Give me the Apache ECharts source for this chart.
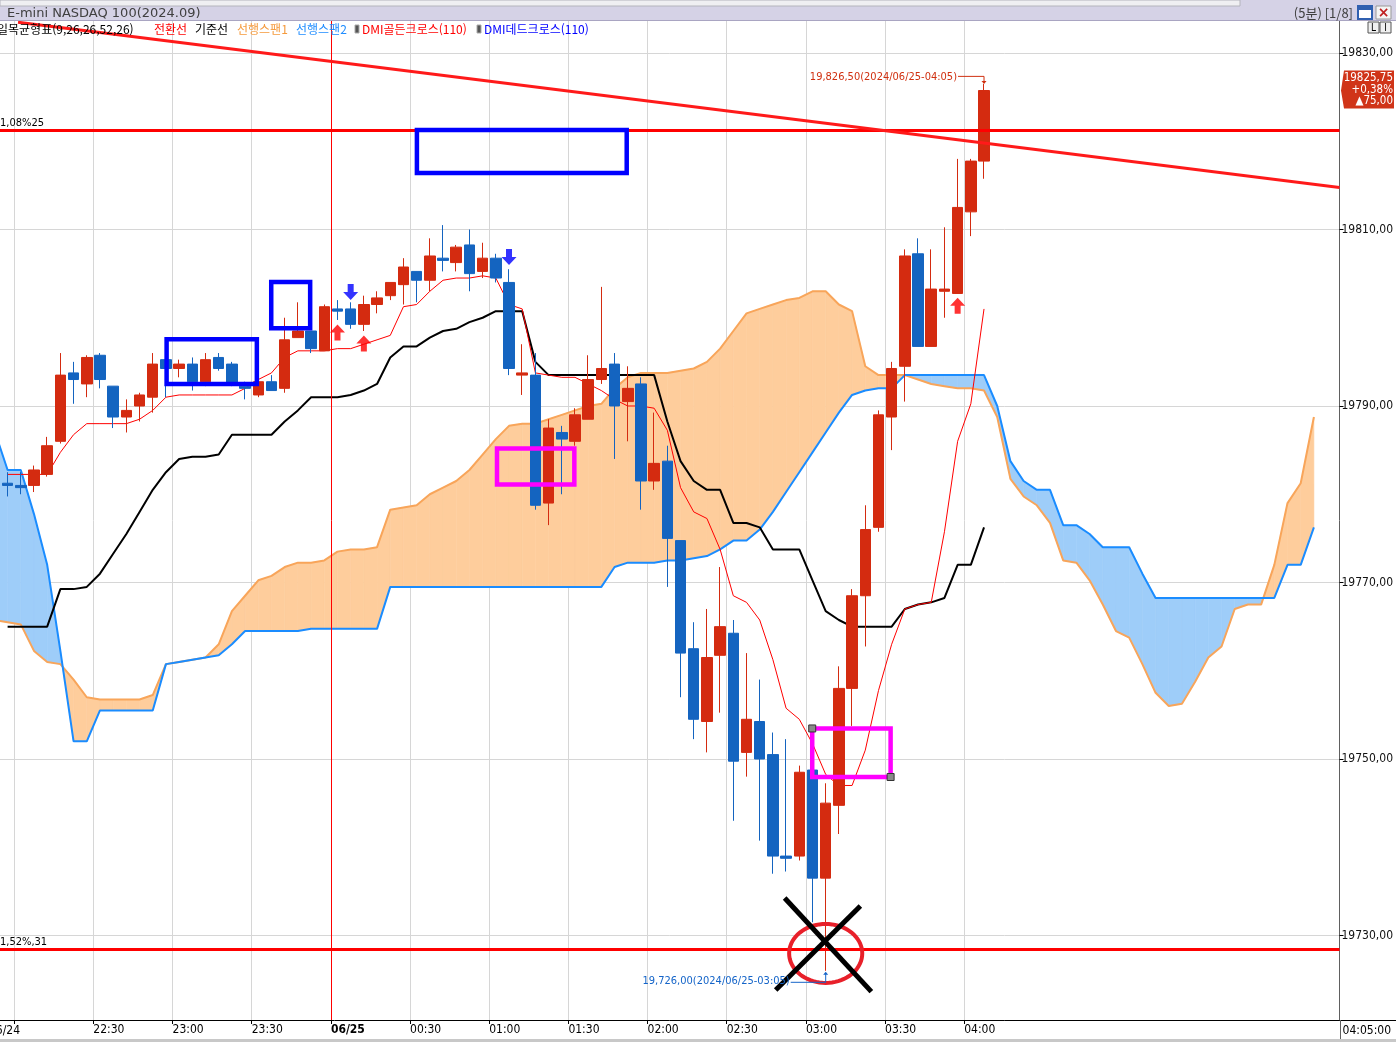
<!DOCTYPE html>
<html lang="ko">
<head>
<meta charset="UTF-8">
<title>E-mini NASDAQ 100(2024.09)</title>
<style>
html,body{margin:0;padding:0;background:#fff;}
#main{width:1396px;height:1042px;}
</style>
</head>
<body>
<div id="main"></div>
<script src="https://cdn.jsdelivr.net/npm/echarts@6/dist/echarts.min.js"></script>
<script>
// 5분봉, 06/24 21:55 ~ 06/25 04:05 (봉 번호 0..74)
var opens = [19781.25,19781.0,19781.0,19782.25,19786.0,19793.75,19792.5,19795.75,19792.25,19788.75,
19790.0,19791.0,19795.25,19794.25,19794.75,19792.75,19795.5,19794.75,19792.25,19791.25,
19792.75,19792.0,19797.75,19798.5,19796.25,19801.0,19801.0,19799.25,19801.5,19802.5,
19803.75,19805.25,19804.25,19806.75,19806.25,19808.25,19805.25,19806.75,19804.0,19793.5,
19793.5,19779.0,19787.0,19786.0,19788.5,19793.0,19794.75,19790.5,19792.5,19781.5,
19783.75,19774.75,19762.5,19754.25,19761.75,19764.25,19750.75,19754.25,19750.5,19739.0,
19739.0,19748.75,19736.5,19744.75,19758.0,19768.5,19776.25,19788.75,19794.5,19807.25,
19796.75,19803.0,19802.75,19812.0,19817.75];
var closes = [19781.0,19780.75,19782.75,19785.5,19793.5,19793.0,19795.5,19793.0,19788.75,19789.5,
19791.25,19794.75,19794.25,19794.75,19792.75,19795.25,19794.25,19792.5,19792.0,19792.75,
19791.75,19797.5,19798.5,19796.5,19801.25,19800.75,19799.25,19801.5,19802.25,19804.0,
19805.75,19804.25,19807.0,19806.5,19808.0,19805.0,19806.75,19804.5,19794.25,19793.75,
19778.75,19787.5,19786.25,19789.0,19793.0,19794.25,19790.0,19792.0,19781.5,19783.5,
19775.0,19762.0,19754.5,19761.5,19765.0,19749.75,19754.5,19750.0,19739.0,19738.75,
19748.5,19736.5,19745.0,19758.0,19768.5,19776.0,19789.0,19794.25,19807.0,19796.75,
19803.25,19803.25,19812.5,19817.75,19825.75];
var lows = [19779.75,19780.0,19780.25,19782.0,19785.75,19790.25,19791.0,19792.0,19787.5,19787.0,
19788.25,19789.25,19791.0,19793.25,19791.75,19792.25,19794.0,19792.25,19790.75,19791.0,
19791.75,19791.5,19797.75,19796.0,19796.25,19799.75,19798.75,19798.5,19800.5,19802.0,
19801.5,19801.75,19803.0,19805.25,19805.25,19803.0,19804.5,19804.0,19793.5,19791.25,
19778.25,19776.5,19780.0,19785.5,19788.5,19792.5,19784.0,19786.0,19778.25,19780.5,
19769.5,19757.0,19752.25,19750.75,19755.25,19743.0,19748.0,19740.75,19737.0,19737.25,
19738.5,19731.5,19726.0,19741.5,19753.75,19762.75,19775.75,19785.0,19790.5,19796.75,
19796.75,19800.0,19802.75,19809.25,19815.75];
var highs = [19782.5,19782.5,19783.25,19786.5,19796.0,19795.0,19795.75,19796.0,19792.25,19790.75,
19791.5,19796.0,19795.75,19795.25,19795.5,19796.0,19796.0,19795.0,19792.75,19793.0,
19793.5,19800.0,19801.75,19798.5,19801.5,19802.0,19801.75,19802.5,19803.0,19804.0,
19806.75,19805.25,19809.0,19810.5,19808.25,19810.0,19808.5,19807.25,19805.5,19797.0,
19796.0,19788.5,19787.75,19789.75,19795.75,19803.5,19796.0,19794.5,19793.25,19789.25,
19785.5,19774.75,19765.5,19767.0,19771.75,19765.75,19762.0,19759.0,19753.0,19752.25,
19749.25,19748.75,19747.25,19760.5,19769.25,19778.75,19789.5,19795.0,19807.75,19809.0,
19807.75,19810.25,19818.0,19818.0,19826.5];

// 전환선 / 기준선 (봉 0..74)
var tenkan = [19782.25,19782.25,19782.25,19782.25,19784.75,19786.75,19788.0,19788.0,19788.0,19788.0,
19788.5,19789.5,19791.0,19791.25,19791.25,19791.25,19791.25,19791.25,19792.0,19793.0,
19793.75,19795.5,19796.25,19796.25,19796.25,19796.5,19796.5,19797.0,19797.5,19798.0,
19801.25,19801.5,19803.0,19804.25,19804.5,19804.5,19804.75,19804.5,19801.5,19801.0,
19793.75,19793.5,19793.25,19793.25,19792.5,19791.75,19790.75,19790.0,19790.0,19789.75,
19787.25,19780.75,19778.0,19777.25,19773.75,19768.5,19767.75,19765.75,19761.25,19755.75,
19754.5,19751.75,19748.25,19747.0,19747.0,19751.0,19757.75,19763.0,19767.0,19767.5,
19767.75,19775.75,19786.0,19790.25,19801.0];
var kijun = [19765.0,19765.0,19765.0,19765.0,19769.25,19769.25,19769.5,19771.0,19773.25,19775.5,
19778.0,19780.5,19782.5,19784.0,19784.25,19784.25,19784.5,19786.75,19786.75,19786.75,
19786.75,19788.25,19789.5,19791.0,19791.0,19791.0,19791.25,19791.75,19792.5,19795.5,
19796.75,19796.75,19797.75,19798.5,19798.75,19799.5,19800.0,19800.75,19800.75,19800.75,
19795.0,19793.5,19793.5,19793.5,19793.5,19793.5,19793.5,19793.5,19793.5,19793.5,
19788.25,19783.75,19781.5,19780.5,19780.5,19776.75,19776.75,19776.25,19773.75,19773.75,
19773.75,19770.25,19766.75,19765.75,19765.0,19765.0,19765.0,19765.0,19767.0,19767.5,
19767.75,19768.25,19772.0,19772.0,19776.25];

// 선행스팬1 / 선행스팬2 (봉 -1..99, 25봉 앞으로)
var spanStart = -1;
var span1 = [19765.75,
19765.5,19765.25,19762.25,19761.0,19760.75,19759.0,19757.0,19756.75,19756.75,19756.75,
19756.75,19757.25,19760.75,19761.0,19761.25,19761.5,19763.0,19766.75,19768.5,19770.25,
19770.75,19771.75,19772.25,19772.25,19772.5,19773.5,19773.75,19773.75,19774.0,19778.25,
19778.5,19778.75,19780.0,19780.75,19781.5,19782.75,19784.5,19786.25,19787.75,19788.0,
19788.0,19788.5,19789.0,19789.5,19790.0,19790.25,19792.0,19793.25,19793.75,19793.75,
19793.75,19794.0,19794.25,19795.0,19796.5,19798.5,19800.5,19801.0,19801.5,19802.0,
19802.25,19803.0,19803.0,19801.5,19800.75,19794.5,19793.5,19793.5,19793.5,19793.0,
19792.5,19792.25,19792.0,19792.0,19791.75,19788.75,19781.75,19779.75,19778.75,19776.75,
19772.5,19772.25,19770.25,19767.5,19764.5,19763.75,19760.75,19757.5,19756.0,19756.25,
19758.75,19761.5,19762.75,19767.0,19767.5,19767.5,19772.0,19779.0,19781.25,19788.75];
var span2 = [19787.25,
19782.75,19782.75,19777.75,19772.0,19762.25,19752.0,19752.0,19755.5,19755.5,19755.5,
19755.5,19755.5,19760.75,19761.0,19761.25,19761.5,19761.75,19763.0,19764.5,19764.5,
19764.5,19764.5,19764.5,19764.75,19764.75,19764.75,19764.75,19764.75,19764.75,19769.5,
19769.5,19769.5,19769.5,19769.5,19769.5,19769.5,19769.5,19769.5,19769.5,19769.5,
19769.5,19769.5,19769.5,19769.5,19769.5,19769.5,19771.75,19772.25,19772.25,19772.25,
19772.5,19772.5,19772.75,19773.0,19773.75,19774.75,19774.75,19776.0,19778.0,19780.25,
19782.5,19784.75,19787.0,19789.25,19791.25,19791.75,19792.0,19792.0,19793.5,19793.5,
19793.5,19793.5,19793.5,19793.5,19793.5,19790.0,19783.75,19781.5,19780.5,19780.5,
19776.5,19776.5,19775.5,19774.0,19774.0,19774.0,19771.0,19768.25,19768.25,19768.25,
19768.25,19768.25,19768.25,19768.25,19768.25,19768.25,19768.25,19772.0,19772.0,19776.25];

// DMI 신호
var goldenCross = [[25, 19798.33], [27, 19797.08], [72, 19801.37]];
var deadCross = [[26, 19802.92], [38, 19806.88]];

// 축 눈금
var xTickLabels = ['', '22:30', '23:00', '23:30', '06/25', '00:30', '01:00', '01:30', '02:00', '02:30', '03:00', '03:30', '04:00'];
var yTicks = [19730, 19750, 19770, 19790, 19810, 19830];

// 수평선 / 추세선
var hLines = [19821.2, 19728.42];
var hLineLabels = ['1,08%25', '1,52%,31'];
var trendLine = [[0.79, 19833.48], [100.94, 19814.76]];

// 그림 도구 (x: 봉 번호, y: 가격)  [x0, x1, 아래, 위]
var blueBoxes = [[31.02, 46.92, 19816.4, 19821.28], [12.05, 18.89, 19792.5, 19797.56], [19.98, 22.93, 19798.81, 19804.05]];
var pinkBoxes = [[37.09, 42.95, 19781.11, 19785.19], [60.98, 66.92, 19747.96, 19753.46]];
var ringCenter = [62.0, 19727.97];
var ringRadius = [2.77, 3.34];
var crossLines = [[[58.89, 19734.25], [65.46, 19723.64]], [[64.63, 19733.35], [58.21, 19723.83]]];
var hiMark = {bar: 74, value: 19826.5, text: '(2024/06/25-04:05)'};
var loMark = {bar: 62, value: 19726.0, text: '(2024/06/25-03:05)'};
var lastInfo = ['19825,75', '+0,38%', '\u25B275,00'];

var NARROW = '"Liberation Sans Narrow","DejaVu Sans Condensed","Arial Narrow",sans-serif';
var KFONT = '"Noto Sans CJK KR","Noto Sans",sans-serif';
var UP = '#d42b10', DOWN = '#1464c0';

function fmtK(v) {
	var p = v.toFixed(2).split('.');
	return p[0].replace(/\B(?=(\d{3})+(?!\d))/g, ',') + ',' + p[1];
}

var candleData = opens.map(function (o, i) { return [i, o, closes[i], lows[i], highs[i]]; });
function pts(arr, start) { return arr.map(function (v, i) { return [i + (start || 0), v]; }); }
var tickPos = xTickLabels.map(function (t, k) { return 0.5 + 6 * k; });

var cloudData = [];
for (var i = 0; i < span1.length - 1; i++) {
	cloudData.push([i + spanStart, span1[i], span2[i], span1[i + 1], span2[i + 1]]);
}

function renderCloud(params, api) {
	var x0 = api.value(0), x1 = x0 + 1;
	var a0 = api.value(1), b0 = api.value(2), a1 = api.value(3), b1 = api.value(4);
	var A0 = api.coord([x0, a0]), B0 = api.coord([x0, b0]);
	var A1 = api.coord([x1, a1]), B1 = api.coord([x1, b1]);
	var d0 = a0 - b0, d1 = a1 - b1;
	var OR = '#fecd9c', BL = '#9ecdf9';
	function poly(p, c) { return {type: 'polygon', shape: {points: p}, style: {fill: c, stroke: c, lineWidth: 0.6}}; }
	var kids = [];
	if (d0 * d1 >= 0) {
		kids.push(poly([A0, A1, B1, B0], (d0 + d1) >= 0 ? OR : BL));
	} else {
		var t = d0 / (d0 - d1);
		var X = [A0[0] + t * (A1[0] - A0[0]), A0[1] + t * (A1[1] - A0[1])];
		kids.push(poly([A0, X, B0], d0 > 0 ? OR : BL));
		kids.push(poly([X, A1, B1], d1 > 0 ? OR : BL));
	}
	return {type: 'group', children: kids};
}

function renderMarks(params, api) {
	var kids = [];
	function c(p) { return api.coord(p); }
	function box(b, color) {
		var p0 = c([b[0], b[3]]), p1 = c([b[1], b[2]]);
		kids.push({type: 'rect', shape: {x: p0[0], y: p0[1], width: p1[0] - p0[0], height: p1[1] - p0[1]},
			style: {fill: 'none', stroke: color, lineWidth: 4.5}});
	}
	blueBoxes.forEach(function (b) { box(b, '#0000ff'); });
	pinkBoxes.forEach(function (b) { box(b, '#ff00ff'); });
	var hb = pinkBoxes[1];
	[[hb[0], hb[3]], [hb[1], hb[2]]].forEach(function (p) {
		var q = c(p);
		kids.push({type: 'rect', shape: {x: q[0] - 3.5, y: q[1] - 3.5, width: 7, height: 7}, style: {fill: '#8a8a8a', stroke: '#333', lineWidth: 1}});
	});
	// 원
	var ec = c(ringCenter), ex = c([ringCenter[0] + ringRadius[0], ringCenter[1]]), ey = c([ringCenter[0], ringCenter[1] + ringRadius[1]]);
	var rx = ex[0] - ec[0], ry = ec[1] - ey[1], ring = [];
	for (var k = 0; k < 72; k++) {
		var a = k / 72 * Math.PI * 2;
		ring.push([ec[0] + rx * Math.cos(a), ec[1] + ry * Math.sin(a)]);
	}
	kids.push({type: 'polygon', shape: {points: ring}, style: {fill: 'none', stroke: '#e8202a', lineWidth: 4}});
	// X 표시
	crossLines.forEach(function (l) {
		var p = c(l[0]), q = c(l[1]);
		kids.push({type: 'line', shape: {x1: p[0], y1: p[1], x2: q[0], y2: q[1]}, style: {stroke: '#000', lineWidth: 5}});
	});
	// 최고가 / 최저가 표시
	var H = c([hiMark.bar, hiMark.value]);
	kids.push({type: 'text', x: H[0] - 27, y: H[1] - 7, style: {text: fmtK(hiMark.value) + hiMark.text, fill: '#d03010', font: '11px ' + NARROW, textAlign: 'right', textVerticalAlign: 'middle'}});
	kids.push({type: 'polyline', shape: {points: [[H[0] - 26, H[1] - 7.5], [H[0], H[1] - 7.5], [H[0], H[1] - 2]]}, style: {fill: 'none', stroke: '#d03010', lineWidth: 1}});
	kids.push({type: 'polygon', shape: {points: [[H[0] - 2.5, H[1] - 3], [H[0] + 2.5, H[1] - 3], [H[0], H[1]]]}, style: {fill: '#d03010'}});
	var L = c([loMark.bar, loMark.value]);
	kids.push({type: 'text', x: L[0] - 36, y: L[1] + 10, style: {text: fmtK(loMark.value) + loMark.text, fill: '#1464c8', font: '11px ' + NARROW, textAlign: 'right', textVerticalAlign: 'middle'}});
	kids.push({type: 'polyline', shape: {points: [[L[0] - 35, L[1] + 11.5], [L[0], L[1] + 11.5], [L[0], L[1] + 3]]}, style: {fill: 'none', stroke: '#1464c8', lineWidth: 1}});
	kids.push({type: 'polygon', shape: {points: [[L[0] - 2.5, L[1] + 4], [L[0] + 2.5, L[1] + 4], [L[0], L[1] + 1]]}, style: {fill: '#1464c8'}});
	return {type: 'group', children: kids};
}

var chart = echarts.init(document.getElementById('main'));

var option = {
	animation: false,
	backgroundColor: '#ffffff',
	grid: {left: 0, right: 56, top: 21, bottom: 22, containLabel: false},
	xAxis: {
		type: 'value', min: -0.576, max: 100.94,
		axisLine: {show: true, onZero: false, lineStyle: {color: '#000', width: 1}},
		axisTick: {show: true, customValues: tickPos, length: 4, lineStyle: {color: '#000'}},
		axisLabel: {
			customValues: tickPos, align: 'left', margin: 4,
			fontSize: 12, fontFamily: NARROW, color: '#000',
			formatter: function (v) {
				var t = xTickLabels[Math.round((v - 0.5) / 6)] || '';
				return t === '06/25' ? '{b|06/25}' : t;
			},
			rich: {b: {fontWeight: 'bold', fontSize: 12, fontFamily: NARROW, color: '#000'}}
		},
		splitLine: {show: true, lineStyle: {color: '#d6d6d6', width: 1}}
	},
	yAxis: {
		type: 'value', position: 'right', min: 19720.425, max: 19833.626,
		axisLine: {show: true, onZero: false, lineStyle: {color: '#606060', width: 1}},
		axisTick: {show: true, customValues: yTicks, length: 4, lineStyle: {color: '#000'}},
		axisLabel: {
			customValues: yTicks, margin: 2, fontSize: 12, fontFamily: NARROW, color: '#111',
			formatter: function (v) { return v.toFixed(2).replace('.', ','); }
		},
		splitLine: {show: true, lineStyle: {color: '#d6d6d6', width: 1}}
	},
	series: [
		{
			name: 'cloud', type: 'custom', renderItem: renderCloud, data: cloudData,
			encode: {x: 0, y: [1, 2, 3, 4]}, clip: true, silent: true, z: 1
		},
		{
			name: '선행스팬1', type: 'line', data: pts(span1, spanStart), showSymbol: false, symbol: 'none',
			lineStyle: {color: '#f8a55a', width: 2}, silent: true, z: 2
		},
		{
			name: '선행스팬2', type: 'line', data: pts(span2, spanStart), showSymbol: false, symbol: 'none',
			lineStyle: {color: '#1a8cff', width: 2}, silent: true, z: 2
		},
		{
			name: '기준선', type: 'line', data: pts(kijun), showSymbol: false, symbol: 'none',
			lineStyle: {color: '#000000', width: 2}, silent: true, z: 3
		},
		{
			name: '전환선', type: 'line', data: pts(tenkan), showSymbol: false, symbol: 'none',
			lineStyle: {color: '#ff0000', width: 1}, silent: true, z: 3
		},
		{
			name: 'price', type: 'candlestick', data: candleData, encode: {x: 0, y: [1, 2, 3, 4]},
			barWidth: 11, silent: true, z: 4,
			itemStyle: {color: UP, color0: DOWN, borderColor: UP, borderColor0: DOWN, borderWidth: 1}
		},
		{
			name: 'trend', type: 'line', data: trendLine, showSymbol: false, symbol: 'none',
			lineStyle: {color: '#ff1a1a', width: 3}, silent: true, z: 6,
			markLine: {
				silent: true, symbol: ['none', 'none'], animation: false,
				data: [
					{xAxis: 24.5, lineStyle: {color: '#ff0000', width: 1, type: 'solid'}, label: {show: false}},
					{yAxis: hLines[0], lineStyle: {color: '#ff0000', width: 3, type: 'solid'},
						label: {show: true, position: 'insideStartTop', distance: [0, 2], formatter: hLineLabels[0], color: '#000', fontSize: 11, fontFamily: NARROW}},
					{yAxis: hLines[1], lineStyle: {color: '#ff0000', width: 3, type: 'solid'},
						label: {show: true, position: 'insideStartTop', distance: [0, 2], formatter: hLineLabels[1], color: '#000', fontSize: 11, fontFamily: NARROW}}
				]
			}
		},
		{
			name: 'DMI골든크로스', type: 'scatter', data: goldenCross,
			symbol: 'path://M5,0L10,6L7,6L7,12L3,12L3,6L0,6Z', symbolSize: [15, 16],
			itemStyle: {color: '#ff0000'}, silent: true, z: 7
		},
		{
			name: 'DMI데드크로스', type: 'scatter', data: deadCross,
			symbol: 'path://M3,0L7,0L7,6L10,6L5,12L0,6L3,6Z', symbolSize: [15, 16],
			itemStyle: {color: '#0000ff'}, silent: true, z: 7
		},
		{
			name: 'marks', type: 'custom', renderItem: renderMarks, data: [[50, 19780]],
			encode: {x: 0, y: 1}, clip: false, silent: true, z: 8
		}
	]
};
chart.setOption(option);

// 머리글, 범례, 현재가 표시
var py = chart.convertToPixel({yAxisIndex: 0}, closes[closes.length - 1]);
var legendItems = [
	{x: -3, text: '일목균형표(9,26,26,52,26)', color: '#000000'},
	{x: 154, text: '전환선', color: '#ff0000'},
	{x: 195, text: '기준선', color: '#000000'},
	{x: 237, text: '선행스팬1', color: '#f59a3c'},
	{x: 296, text: '선행스팬2', color: '#1e8cff'},
	{x: 362, text: 'DMI골든크로스(110)', color: '#ff0000'},
	{x: 484, text: 'DMI데드크로스(110)', color: '#0000ff'}
];
var g = [
	{type: 'rect', shape: {x: 0, y: 0, width: 1396, height: 21}, style: {fill: '#d5d2e6'}, z: 100},
	{type: 'rect', shape: {x: 0, y: 0, width: 1240, height: 6}, style: {fill: '#efeff2', stroke: '#b4b4bc', lineWidth: 1}, z: 101},
	{type: 'line', shape: {x1: 0, y1: 20.5, x2: 1396, y2: 20.5}, style: {stroke: '#a9a5c2', lineWidth: 1}, z: 101},
	{type: 'text', x: 7, y: 14, style: {text: 'E-mini NASDAQ 100(2024.09)', fill: '#404040', font: '13px "DejaVu Sans"', textVerticalAlign: 'middle'}, z: 102},
	{type: 'text', x: 1353, y: 13, style: {text: '(5분) [1/8]', fill: '#404040', font: '13px ' + KFONT, textAlign: 'right', textVerticalAlign: 'middle'}, z: 102},
	{type: 'rect', shape: {x: 1358, y: 6, width: 14, height: 13}, style: {fill: '#ffffff', stroke: '#3060b0', lineWidth: 2}, z: 102},
	{type: 'rect', shape: {x: 1358, y: 6, width: 14, height: 4}, style: {fill: '#3060b0'}, z: 103},
	{type: 'rect', shape: {x: 1376, y: 6, width: 15, height: 13}, style: {fill: '#f4f4f4', stroke: '#999', lineWidth: 1}, z: 102},
	{type: 'text', x: 1383.5, y: 13, style: {text: '×', fill: '#c02020', font: 'bold 14px "DejaVu Sans"', textAlign: 'center', textVerticalAlign: 'middle'}, z: 103},
	{type: 'rect', shape: {x: 1368, y: 22, width: 11, height: 11}, style: {fill: '#f0f0f0', stroke: '#555', lineWidth: 1}, z: 102},
	{type: 'rect', shape: {x: 1380, y: 22, width: 11, height: 11}, style: {fill: '#f0f0f0', stroke: '#555', lineWidth: 1}, z: 102},
	{type: 'text', x: 1373.5, y: 28, style: {text: 'L', fill: '#000', font: '10px ' + NARROW, textAlign: 'center', textVerticalAlign: 'middle'}, z: 103},
	{type: 'text', x: 1385.5, y: 28, style: {text: 'I', fill: '#000', font: '10px ' + NARROW, textAlign: 'center', textVerticalAlign: 'middle'}, z: 103},
	{type: 'rect', shape: {x: 355, y: 25, width: 4, height: 8}, style: {fill: '#555', stroke: '#aaa', lineWidth: 1}, z: 102},
	{type: 'rect', shape: {x: 477, y: 25, width: 4, height: 8}, style: {fill: '#555', stroke: '#aaa', lineWidth: 1}, z: 102},
	// 현재가
	{type: 'polygon', shape: {points: [[1341, py], [1344, py - 20], [1394, py - 20], [1394, py + 18], [1344, py + 18]]}, style: {fill: '#d03418'}, z: 102},
	{type: 'text', x: 1393, y: py - 12.5, style: {text: lastInfo[0], fill: '#fff', font: '11.5px ' + NARROW, textAlign: 'right', textVerticalAlign: 'middle'}, z: 103},
	{type: 'text', x: 1393, y: py - 0.5, style: {text: lastInfo[1], fill: '#fff', font: '11.5px ' + NARROW, textAlign: 'right', textVerticalAlign: 'middle'}, z: 103},
	{type: 'text', x: 1393, y: py + 10.5, style: {text: lastInfo[2], fill: '#fff', font: '11.5px ' + NARROW, textAlign: 'right', textVerticalAlign: 'middle'}, z: 103},
	// 아래쪽
	{type: 'text', x: 20, y: 1031, style: {text: '06/24', fill: '#000', font: '12px ' + NARROW, textAlign: 'right', textVerticalAlign: 'middle'}, z: 102},
	{type: 'line', shape: {x1: 1340, y1: 1020.5, x2: 1396, y2: 1020.5}, style: {stroke: '#000', lineWidth: 1}, z: 102},
	{type: 'line', shape: {x1: 1340.5, y1: 1020, x2: 1340.5, y2: 1040}, style: {stroke: '#606060', lineWidth: 1}, z: 102},
	{type: 'text', x: 1391, y: 1031, style: {text: '04:05:00', fill: '#000', font: '12px ' + NARROW, textAlign: 'right', textVerticalAlign: 'middle'}, z: 102},
	{type: 'rect', shape: {x: 0, y: 1039, width: 1396, height: 3}, style: {fill: '#c8c8c8'}, z: 102}
];
legendItems.forEach(function (it) {
	g.push({type: 'text', x: it.x, y: 29, style: {text: it.text, fill: it.color, font: '12px ' + KFONT, textVerticalAlign: 'middle'}, z: 102});
});
chart.setOption({graphic: g});
</script>
</body>
</html>
